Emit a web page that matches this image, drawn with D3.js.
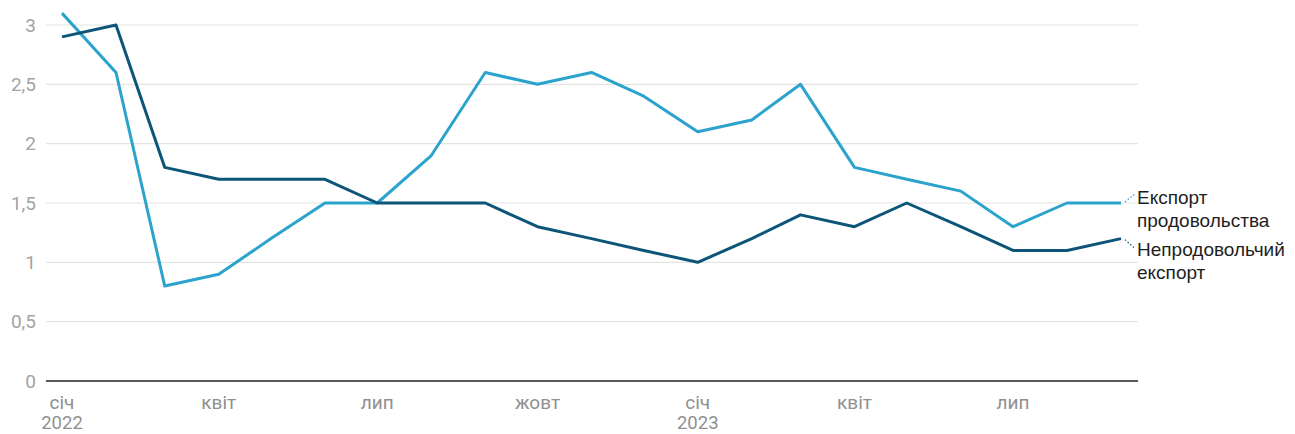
<!DOCTYPE html>
<html>
<head>
<meta charset="utf-8">
<script src="https://cdn.jsdelivr.net/npm/d3@7"></script>
<style>
  html, body { margin: 0; padding: 0; background: #fff; }
  svg { display: block; font-family: Roboto, "Noto Sans", sans-serif; }
</style>
</head>
<body>
<svg id="chart" width="1295" height="434"></svg>
<script>
// Monthly series, Jan 2022 – Sep 2023
const months = [
  "2022-01","2022-02","2022-03","2022-04","2022-05","2022-06","2022-07",
  "2022-08","2022-09","2022-10","2022-11","2022-12","2023-01","2023-02",
  "2023-03","2023-04","2023-05","2023-06","2023-07","2023-08","2023-09"
];
const foodExport = [3.1, 2.6, 0.8, 0.9, 1.2, 1.5, 1.5, 1.9, 2.6, 2.5, 2.6, 2.4, 2.1, 2.2, 2.5, 1.8, 1.7, 1.6, 1.3, 1.5, 1.5];
const nonFoodExport = [2.9, 3.0, 1.8, 1.7, 1.7, 1.7, 1.5, 1.5, 1.5, 1.3, 1.2, 1.1, 1.0, 1.2, 1.4, 1.3, 1.5, 1.3, 1.1, 1.1, 1.2];

const yTicks = [0, 0.5, 1, 1.5, 2, 2.5, 3];
const xTickMonths = ["2022-01","2022-04","2022-07","2022-10","2023-01","2023-04","2023-07"];
const xTickLabels = ["січ","квіт","лип","жовт","січ","квіт","лип"];
const xTickYears  = ["2022","","","","2023","",""];

const seriesNames = [["Експорт", "продовольства"], ["Непродовольчий", "експорт"]];
const colors = ["#2ba3cc", "#0d5578"];

const parse = d3.timeParse("%Y-%m");
const dates = months.map(parse);

const svg = d3.select("#chart");
const gridLeft = 46, gridRight = 1138;

const x = d3.scaleTime()
  .domain([dates[0], dates[dates.length - 1]])
  .range([62, 1121]);
const y = d3.scaleLinear().domain([0, 3]).range([381, 25]);

// horizontal gridlines
svg.append("g").selectAll("line")
  .data(yTicks.filter(t => t > 0))
  .join("line")
  .attr("x1", gridLeft).attr("x2", gridRight)
  .attr("y1", d => y(d)).attr("y2", d => y(d))
  .attr("stroke", "#e3e3e3").attr("stroke-width", 1.2);

// y tick labels
const fmt = d => String(d).replace(".", ",");
svg.append("g").selectAll("text")
  .data(yTicks)
  .join("text")
  .attr("x", 36).attr("y", d => y(d))
  .attr("dy", "0.35em")
  .attr("text-anchor", "end")
  .attr("fill", "#a3a3a3")
  .attr("font-size", 19)
  .text(fmt);

// baseline
svg.append("line")
  .attr("x1", gridLeft).attr("x2", gridRight)
  .attr("y1", y(0)).attr("y2", y(0))
  .attr("stroke", "#222").attr("stroke-width", 1.5);

// x tick labels
const xg = svg.append("g");
xTickMonths.forEach((m, i) => {
  const px = x(parse(m));
  xg.append("text")
    .attr("x", px).attr("y", 409)
    .attr("text-anchor", "middle")
    .attr("fill", "#8f8f8f").attr("font-size", 19)
    .text(xTickLabels[i]);
  if (xTickYears[i]) {
    xg.append("text")
      .attr("x", px).attr("y", 429)
      .attr("text-anchor", "middle")
      .attr("fill", "#8f8f8f").attr("font-size", 18.5)
      .text(xTickYears[i]);
  }
});

// lines
const line = d3.line().x((d, i) => x(dates[i])).y(d => y(d));
[foodExport, nonFoodExport].forEach((vals, k) => {
  svg.append("path")
    .datum(vals)
    .attr("fill", "none")
    .attr("stroke", colors[k])
    .attr("stroke-width", 3)
    .attr("stroke-linejoin", "round")
    .attr("d", line);
});

// end labels with short dotted connectors
const labelX = 1137;
const labelY = [204, 256];
[foodExport, nonFoodExport].forEach((vals, k) => {
  const last = vals[vals.length - 1];
  const ex = x(dates[dates.length - 1]);
  const ey = y(last);
  svg.append("line")
    .attr("x1", ex + 4).attr("y1", ey + (k === 0 ? -1 : 1))
    .attr("x2", labelX - 2).attr("y2", ey + (k === 0 ? -9 : 10))
    .attr("stroke", colors[k]).attr("stroke-width", 1.2)
    .attr("stroke-dasharray", "1.5,2");
  const t = svg.append("text")
    .attr("x", labelX).attr("y", labelY[k])
    .attr("fill", "#1e1e1e").attr("font-size", 19)
    .attr("font-family", "'Liberation Sans', Arial, sans-serif");
  seriesNames[k].forEach((s, j) => {
    t.append("tspan").attr("x", labelX).attr("dy", j === 0 ? 0 : 23).text(s);
  });
});
</script>
</body>
</html>
